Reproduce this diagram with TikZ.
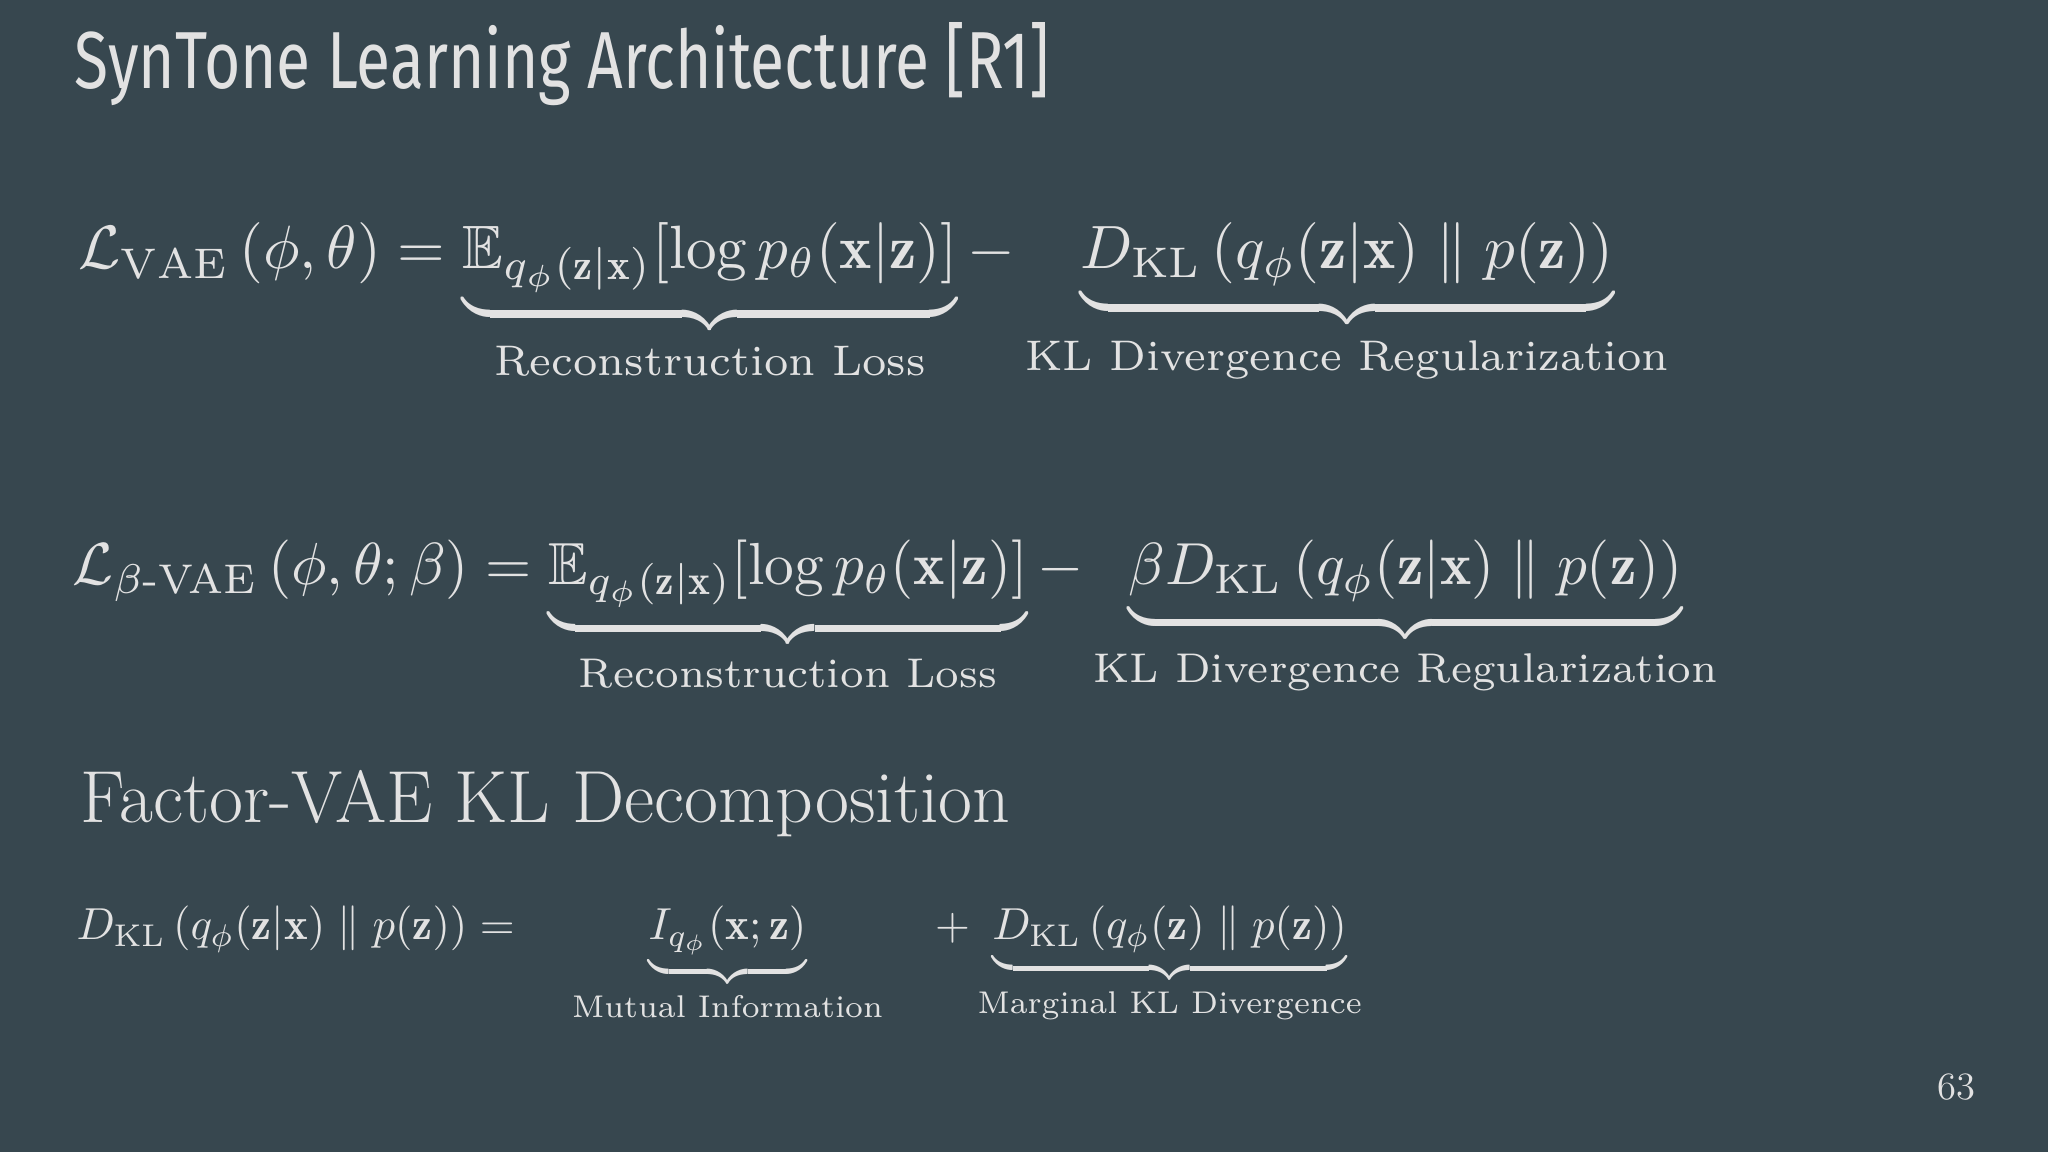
\documentclass[tikz,border=0pt]{standalone}
\usepackage{amsmath,amssymb}
\usepackage{graphicx}
\usepackage{fontspec}
\newfontfamily\titlefont{Fira Sans}
\definecolor{bg}{HTML}{37474F}
\definecolor{fg}{HTML}{E2E2E2}
\newcommand{\KL}{D_{\mathrm{KL}}}
\begin{document}
\begin{tikzpicture}[x=1cm,y=1cm,
  eq/.style={anchor=north west,inner sep=0pt,text=fg},
  txt/.style={inner sep=0pt,text=fg}]
\fill[bg] (0,0) rectangle (20.48,11.52);
\useasboundingbox (0,0) rectangle (20.48,11.52);
\node[txt,anchor=base west] (title) at (0.74,10.63) {\resizebox{9.75cm}{0.66cm}{\titlefont SynTone Learning Architecture [R1]}};
\node[eq] (e1) at (0.78,9.30) {\resizebox{15.9cm}{!}{$\displaystyle
 \mathcal{L}_{\mathrm{VAE}}\,(\phi,\theta) = \underbrace{\mathbb{E}_{q_\phi(\mathbf{z}|\mathbf{x})}[\log p_\theta(\mathbf{x}|\mathbf{z})]}_{\text{Reconstruction Loss}} - \underbrace{\KL\,(q_\phi(\mathbf{z}|\mathbf{x})\parallel p(\mathbf{z}))}_{\text{KL Divergence Regularization}}$}};
\node[eq] (e2) at (0.72,6.13) {\resizebox{16.45cm}{!}{$\displaystyle
 \mathcal{L}_{\beta\text{-VAE}}\,(\phi,\theta;\beta) = \underbrace{\mathbb{E}_{q_\phi(\mathbf{z}|\mathbf{x})}[\log p_\theta(\mathbf{x}|\mathbf{z})]}_{\text{Reconstruction Loss}} - \underbrace{\beta\KL\,(q_\phi(\mathbf{z}|\mathbf{x})\parallel p(\mathbf{z}))}_{\text{KL Divergence Regularization}}$}};
\node[txt,anchor=base west] (fac) at (0.80,3.29) {\fontsize{21}{24}\selectfont Factor-VAE KL Decomposition};
\node[eq] (e3) at (0.76,2.47) {\resizebox{12.85cm}{!}{$\displaystyle
 \KL\,(q_\phi(\mathbf{z}|\mathbf{x})\parallel p(\mathbf{z})) = \quad \underbrace{I_{q_\phi}(\mathbf{x};\mathbf{z})}_{\text{Mutual Information}} \quad + \underbrace{\KL\,(q_\phi(\mathbf{z})\parallel p(\mathbf{z}))}_{\text{Marginal KL Divergence}}$}};
\node[txt,anchor=base] (pg) at (19.56,0.52) {\fontsize{11}{13}\selectfont 63};
\end{tikzpicture}
\end{document}
